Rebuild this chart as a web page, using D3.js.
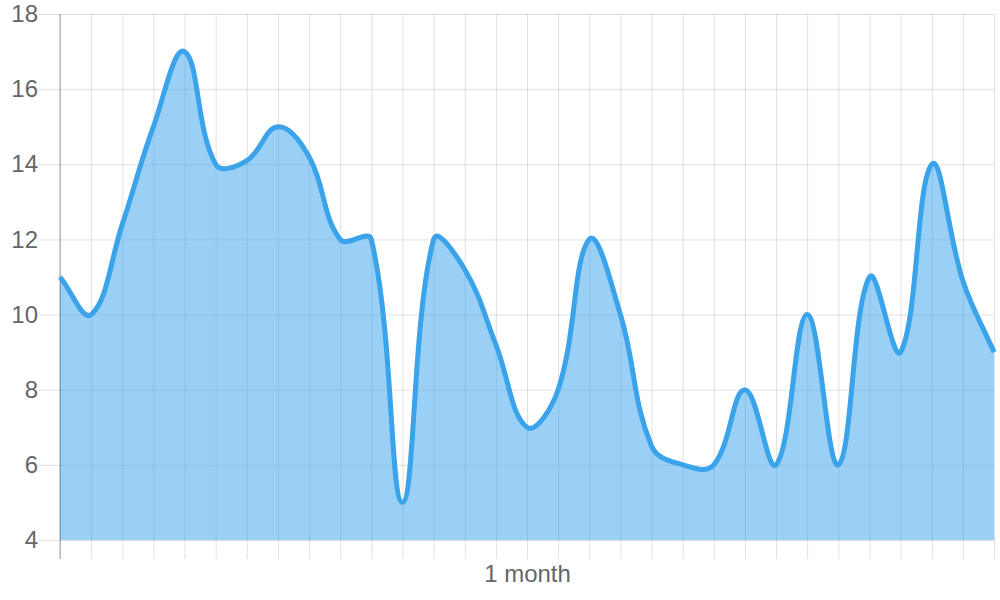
<!DOCTYPE html>
<html>
<head>
<meta charset="utf-8">
<script src="https://cdn.jsdelivr.net/npm/d3@7"></script>
<style>
  body { margin: 0; background: #fff; }
  svg text { font-family: "Liberation Sans", Arial, sans-serif; fill: #666; }
</style>
</head>
<body>
<script>
// data, one point a day
var days = d3.range(31);
var values = [11, 10, 12.4, 15, 17, 14, 14.1, 15, 14.2, 12, 12, 5, 12, 11.2, 9.2, 7,
              8, 12, 10, 6.5, 6, 6, 8, 6, 10, 6, 11, 9, 14, 10.9, 9];
var xLabels = ["", "", "", "", "", "", "", "", "", "", "", "", "", "", "", "1 month",
               "", "", "", "", "", "", "", "", "", "", "", "", "", "", ""];
var yTicks = [4, 6, 8, 10, 12, 14, 16, 18];

// plot box (note: "top" is taken by window.top, so use pTop etc)
var width = 1000, height = 600,
    pLeft = 60, pRight = 994, pTop = 14, pBottom = 540;

var svg = d3.select("body").append("svg")
    .attr("width", width)
    .attr("height", height);

var x = d3.scalePoint().domain(days).range([pLeft, pRight]);
var y = d3.scaleLinear().domain([4, 18]).range([pBottom, pTop]);

// bezier like the chart lib: tension 0.4, distance weighted, capped to area
function tensionCurve(context) {
  return {
    areaStart: function() { this._line = 0; },
    areaEnd: function() { this._line = NaN; },
    lineStart: function() { this._pts = []; },
    point: function(px, py) { this._pts.push([+px, +py]); },
    lineEnd: function() {
      var p = this._pts, n = p.length, t = 0.4;
      if (!n) return;
      if (this._line) context.lineTo(p[0][0], p[0][1]);
      else context.moveTo(p[0][0], p[0][1]);
      var cap = function(q) {
        return [Math.max(pLeft, Math.min(pRight, q[0])), Math.max(pTop, Math.min(pBottom, q[1]))];
      };
      var cps = p.map(function(cur, i) {
        var prev = p[Math.max(i - 1, 0)], next = p[Math.min(i + 1, n - 1)];
        var d01 = Math.hypot(cur[0] - prev[0], cur[1] - prev[1]);
        var d12 = Math.hypot(next[0] - cur[0], next[1] - cur[1]);
        var s01 = d01 / (d01 + d12) || 0, s12 = d12 / (d01 + d12) || 0;
        var fa = t * s01, fb = t * s12;
        return {
          a: cap([cur[0] - fa * (next[0] - prev[0]), cur[1] - fa * (next[1] - prev[1])]),
          b: cap([cur[0] + fb * (next[0] - prev[0]), cur[1] + fb * (next[1] - prev[1])])
        };
      });
      for (var i = 0; i < n - 1; i++) {
        context.bezierCurveTo(cps[i].b[0], cps[i].b[1], cps[i + 1].a[0], cps[i + 1].a[1], p[i + 1][0], p[i + 1][1]);
      }
      if (this._line || (this._line !== 0 && n === 1)) context.closePath();
      this._line = 1 - this._line;
    }
  };
}

// y grid + labels
var yAxis = svg.append("g")
    .attr("transform", "translate(39,0)")
    .call(d3.axisLeft(y).tickValues(yTicks).tickSize(-(pRight - 39)).tickPadding(1));
yAxis.select(".domain").remove();
yAxis.selectAll("line").attr("stroke", "rgba(0,0,0,0.12)").attr("stroke-width", 1);
yAxis.selectAll("text").style("font-size", "24px");

// x grid + labels
var xAxis = svg.append("g")
    .attr("transform", "translate(0," + pTop + ")")
    .call(d3.axisBottom(x).tickSize(pBottom + 19 - pTop).tickPadding(6)
      .tickFormat(function(d) { return xLabels[d]; }));
xAxis.select(".domain").remove();
xAxis.selectAll("line").attr("stroke", "rgba(0,0,0,0.12)").attr("stroke-width", 1);
xAxis.selectAll("text").style("font-size", "24px");

// filled area
var area = d3.area()
    .x(function(d, i) { return x(days[i]); })
    .y0(pBottom)
    .y1(function(d) { return y(d); })
    .curve(tensionCurve);

svg.append("path")
    .datum(values)
    .attr("d", area)
    .attr("fill", "rgba(54,162,235,0.5)");

// axis line
svg.append("line")
    .attr("x1", pLeft).attr("x2", pLeft)
    .attr("y1", pTop).attr("y2", pBottom + 19)
    .attr("stroke", "rgba(0,0,0,0.35)");

var line = d3.line()
    .x(function(d, i) { return x(days[i]); })
    .y(function(d) { return y(d); })
    .curve(tensionCurve);

svg.append("path")
    .datum(values)
    .attr("d", line)
    .attr("fill", "none")
    .attr("stroke", "#3aa3ea")
    .attr("stroke-width", 5);
</script>
</body>
</html>
